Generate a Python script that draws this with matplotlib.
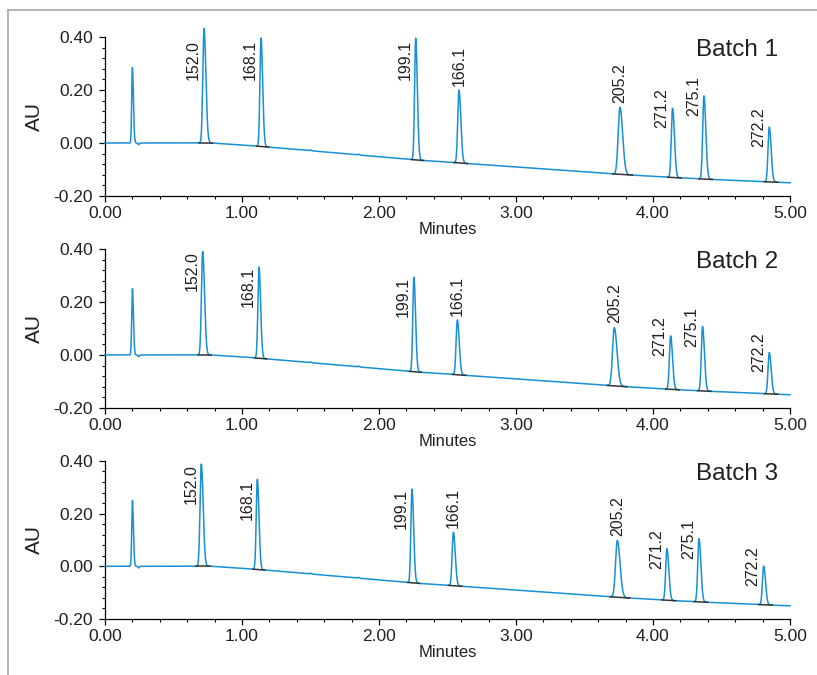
import numpy as np
import matplotlib
matplotlib.use("Agg")
import matplotlib.pyplot as plt
from matplotlib.lines import Line2D
from matplotlib.ticker import MultipleLocator, FormatStrFormatter

plt.rcParams['font.family'] = ['Liberation Sans', 'DejaVu Sans']

# retention times (min) and apex readings (AU) for each batch
# first entry is the unretained (void) peak, the rest are labelled by m/z
batches = ['Batch 1', 'Batch 2', 'Batch 3']
peak_labels = ['', '152.0', '168.1', '199.1', '166.1', '205.2', '271.2', '275.1', '272.2']

times_1 = [0.200, 0.723, 1.139, 2.268, 2.584, 3.759, 4.143, 4.372, 4.849]
apex_1 = [0.284, 0.432, 0.396, 0.395, 0.200, 0.135, 0.131, 0.178, 0.060]

times_2 = [0.200, 0.713, 1.124, 2.255, 2.572, 3.718, 4.129, 4.362, 4.849]
apex_2 = [0.250, 0.390, 0.331, 0.293, 0.132, 0.103, 0.072, 0.107, 0.009]

times_3 = [0.200, 0.703, 1.112, 2.241, 2.543, 3.740, 4.102, 4.336, 4.808]
apex_3 = [0.249, 0.388, 0.330, 0.293, 0.129, 0.098, 0.067, 0.105, 0.001]

# peak widths (sigma, min)
peak_sigma = [0.005, 0.009, 0.008, 0.008, 0.009, 0.013, 0.009, 0.009, 0.009]

# gradient drift of the baseline
drift_t = [0.0, 0.78, 1.14, 1.50, 2.27, 2.58, 3.75, 4.14, 4.37, 4.85, 5.00]
drift_au = [0.0, 0.0, -0.013, -0.029, -0.064, -0.075, -0.118, -0.130, -0.136, -0.147, -0.150]

# small system blips on the baseline
blip_t = [0.245, 1.50, 1.85]
blip_au = [-0.006, 0.003, 0.003]

all_times = [times_1, times_2, times_3]
all_apex = [apex_1, apex_2, apex_3]

# where each peak label sits: beside the peak top, above the peak, or centred beside it
label_mode = [None, 'top', 'top', 'top', 'above', 'above', 'mid', 'mid', 'mid']

blue = '#1790d6'
ink = '#231f20'


def baseline(t):
    return np.interp(t, drift_t, drift_au)


def peak(t, t0, h, s):
    # slightly tailing gaussian
    sig = np.where(t < t0, s, 1.5 * s)
    return h * np.exp(-0.5 * ((t - t0) / sig) ** 2)


t = np.linspace(0, 5, 5001)

fig = plt.figure(figsize=(8.17, 6.75), dpi=100)
rects = [[0.1285, 0.7096, 0.8384, 0.2356],
         [0.1285, 0.3956, 0.8384, 0.2356],
         [0.1285, 0.0830, 0.8384, 0.2341]]

for k in range(3):
    ax = fig.add_axes(rects[k])
    times = all_times[k]
    apex = all_apex[k]

    y = baseline(t)
    for t0, a, s in zip(times, apex, peak_sigma):
        y = y + peak(t, t0, a - baseline(t0), s)
    for t0, a in zip(blip_t, blip_au):
        y = y + peak(t, t0, a, 0.004)

    ax.plot(t, y, color=blue, lw=1.1, clip_on=False, zorder=3)

    for i, (t0, a, s) in enumerate(zip(times, apex, peak_sigma)):
        if not peak_labels[i]:
            continue
        # integration baseline under the peak
        xs = np.array([t0 - 4 * s, t0 + 7 * s])
        ax.plot(xs, baseline(xs), color='#333333', lw=1.1, zorder=4)

        mode = label_mode[i]
        if mode == 'above':
            ax.annotate(peak_labels[i], (t0, a), xytext=(0, 3), textcoords='offset points',
                        rotation=90, ha='center', va='bottom', fontsize=11.5, color=ink)
        elif mode == 'top':
            ax.annotate(peak_labels[i], (t0, min(a, 0.39)), xytext=(-7.5, 0),
                        textcoords='offset points', rotation=90, ha='center', va='top',
                        fontsize=11.5, color=ink)
        else:
            ax.annotate(peak_labels[i], (t0, a), xytext=(-7.5, 0), textcoords='offset points',
                        rotation=90, ha='center', va='center', fontsize=11.5, color=ink)

    ax.text(0.982, 0.918, batches[k], transform=ax.transAxes, ha='right', va='center',
            fontsize=17.5, color=ink)

    ax.set_xlim(0, 5)
    ax.set_ylim(-0.2, 0.4)
    ax.xaxis.set_major_locator(MultipleLocator(1))
    ax.xaxis.set_minor_locator(MultipleLocator(0.2))
    ax.yaxis.set_major_locator(MultipleLocator(0.2))
    ax.yaxis.set_minor_locator(MultipleLocator(0.04))
    ax.xaxis.set_major_formatter(FormatStrFormatter('%.2f'))
    ax.yaxis.set_major_formatter(FormatStrFormatter('%.2f'))

    for side in ['top', 'right']:
        ax.spines[side].set_visible(False)
    for side in ['left', 'bottom']:
        ax.spines[side].set_linewidth(0.9)
        ax.spines[side].set_color('black')

    ax.tick_params(which='major', length=4.5, width=0.9, labelsize=12.5, labelcolor=ink, pad=2.5)
    ax.tick_params(which='minor', length=2.5, width=0.8)
    ax.tick_params(axis='y', which='major', pad=4)

    ax.set_xlabel('Minutes', fontsize=12, color=ink, labelpad=1)
    ax.set_ylabel('AU', fontsize=15, color=ink, labelpad=7)

# gray frame around the figure panel
fig.add_artist(Line2D([8 / 817, 1.0], [1 - 10 / 675, 1 - 10 / 675], color='#a8a8a8', lw=1.2))
fig.add_artist(Line2D([8 / 817, 8 / 817], [0.0, 1 - 10 / 675], color='#a8a8a8', lw=1.2))

fig.savefig('out.png', dpi=100)
